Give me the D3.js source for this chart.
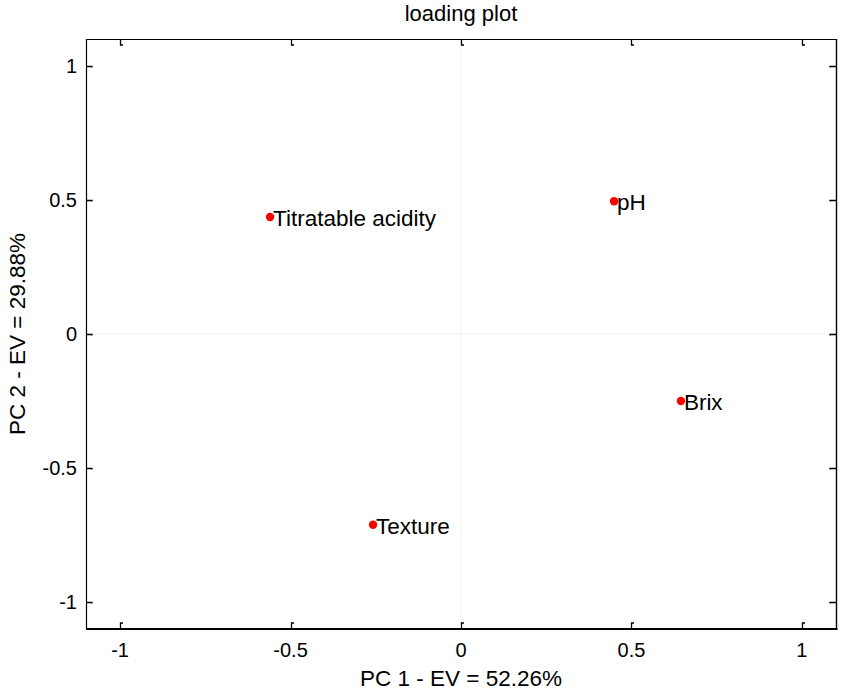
<!DOCTYPE html>
<html>
<head>
<meta charset="utf-8">
<script src="https://cdn.jsdelivr.net/npm/d3@7"></script>
<style>
  html, body { margin: 0; padding: 0; background: #fff; }
  svg { display: block; font-family: "Liberation Sans", Arial, sans-serif; }
</style>
</head>
<body>
<svg id="chart" width="842" height="691"></svg>
<script>
// Loadings of the first two principal components
const variables = ["Titratable acidity", "pH", "Brix", "Texture"];
const pc1 = [-0.560, 0.449, 0.645, -0.258];
const pc2 = [0.436, 0.495, -0.250, -0.711];
const xTicks = [-1, -0.5, 0, 0.5, 1];
const yTicks = [-1, -0.5, 0, 0.5, 1];

const svg = d3.select("#chart");
const margin = { left: 86, right: 6, top: 39, bottom: 62 };
const W = 842, H = 691;

const x = d3.scaleLinear().domain([-1.1, 1.1]).range([margin.left, W - margin.right]);
const y = d3.scaleLinear().domain([-1.1, 1.1]).range([H - margin.bottom, margin.top]);

const x0 = x.range()[0], x1 = x.range()[1];
const y0 = y.range()[1], y1 = y.range()[0];

// faint zero lines
svg.append("line").attr("x1", x(0)).attr("x2", x(0)).attr("y1", y0).attr("y2", y1)
  .attr("stroke", "#f3f3f3").attr("stroke-width", 1);
svg.append("line").attr("x1", x0).attr("x2", x1).attr("y1", y(0)).attr("y2", y(0))
  .attr("stroke", "#f3f3f3").attr("stroke-width", 1);

// frame
const frame = svg.append("g").attr("fill", "none").attr("stroke", "#000");
frame.append("line").attr("x1", x0).attr("x2", x1).attr("y1", y0 + 0.5).attr("y2", y0 + 0.5).attr("stroke-width", 1.2);
frame.append("line").attr("x1", x0 + 0.5).attr("x2", x0 + 0.5).attr("y1", y0).attr("y2", y1).attr("stroke-width", 1.2);
frame.append("line").attr("x1", x1 + 0.5).attr("x2", x1 + 0.5).attr("y1", y0).attr("y2", y1 + 1).attr("stroke-width", 1.4);
frame.append("line").attr("x1", x0).attr("x2", x1 + 1.5).attr("y1", y1).attr("y2", y1).attr("stroke-width", 2.2);

// small inward ticks with a short hook, on all four sides
const tl = 6, hk = 2.5;
const ticks = svg.append("g").attr("fill", "none").attr("stroke", "#000").attr("stroke-width", 1.3);
xTicks.forEach(v => {
  const px = Math.round(x(v)) + 0.5;
  ticks.append("path").attr("d", `M${px},${y1}V${y1 - tl}h${hk}`);
  ticks.append("path").attr("d", `M${px},${y0}V${y0 + tl}h${hk}`);
});
yTicks.forEach(v => {
  const py = Math.round(y(v)) + 0.5;
  ticks.append("path").attr("d", `M${x0},${py}H${x0 + tl}v${hk * 0.4}`);
  ticks.append("path").attr("d", `M${x1},${py}H${x1 - tl}v${hk * 0.4}`);
});

const fmt = v => (v === 0 ? "0" : String(v));

// tick labels
svg.append("g").selectAll("text").data(xTicks).join("text")
  .attr("x", d => x(d)).attr("y", y1 + 28)
  .attr("text-anchor", "middle").attr("font-size", 20).attr("fill", "#000")
  .text(fmt);
svg.append("g").selectAll("text").data(yTicks).join("text")
  .attr("x", x0 - 9).attr("y", d => y(d) + 7)
  .attr("text-anchor", "end").attr("font-size", 20).attr("fill", "#000")
  .text(fmt);

// title and axis labels
svg.append("text").attr("x", (x0 + x1) / 2).attr("y", 21)
  .attr("text-anchor", "middle").attr("font-size", 22).attr("fill", "#000")
  .text("loading plot");
svg.append("text").attr("x", (x0 + x1) / 2).attr("y", 686)
  .attr("text-anchor", "middle").attr("font-size", 22.5).attr("fill", "#000")
  .text("PC 1 - EV = 52.26%");
svg.append("text").attr("transform", `translate(25,${(y0 + y1) / 2}) rotate(-90)`)
  .attr("text-anchor", "middle").attr("font-size", 22.5).attr("fill", "#000")
  .text("PC 2 - EV = 29.88%");

// loading points and their labels
const pts = variables.map((name, i) => ({ name, a: pc1[i], b: pc2[i] }));
svg.append("g").selectAll("circle").data(pts).join("circle")
  .attr("cx", d => x(d.a)).attr("cy", d => y(d.b)).attr("r", 4.2)
  .attr("fill", "#ff0000");
svg.append("g").selectAll("text").data(pts).join("text")
  .attr("x", d => x(d.a) + 3).attr("y", d => y(d.b) + 9)
  .attr("font-size", 22.5).attr("fill", "#000")
  .text(d => d.name);
</script>
</body>
</html>
